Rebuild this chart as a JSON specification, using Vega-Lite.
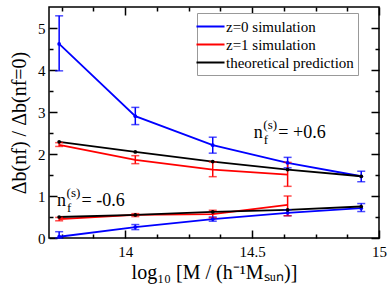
{
  "$schema": "https://vega.github.io/schema/vega-lite/v6.json",
  "width": 330,
  "height": 231,
  "autosize": {"type": "none"},
  "padding": {"left": 49, "top": 7, "right": 12, "bottom": 51},
  "background": "white",
  "config": {
    "view": {"stroke": "#000", "strokeWidth": 1.5},
    "font": "Liberation Serif",
    "axis": {
      "domain": false, "grid": false, "tickColor": "#000", "tickWidth": 1.5,
      "labelColor": "#000", "labelFont": "Liberation Serif", "labelFontSize": 15,
      "titleFont": "Liberation Serif", "titleFontWeight": "normal", "titleColor": "#000", "titleFontSize": 20,
      "labelFlush": false, "labelOverlap": false
    },
    "legend": {"labelFont": "Liberation Serif", "labelFontSize": 15, "labelColor": "#000"}
  },
  "datasets": {
    "main": [
      {"s": "z=0 simulation", "g": "p", "x": 13.74, "y": 4.62, "lo": 3.98, "hi": 5.29},
      {"s": "z=0 simulation", "g": "p", "x": 14.04, "y": 2.90, "lo": 2.70, "hi": 3.11},
      {"s": "z=0 simulation", "g": "p", "x": 14.345, "y": 2.21, "lo": 2.02, "hi": 2.40},
      {"s": "z=0 simulation", "g": "p", "x": 14.64, "y": 1.79, "lo": 1.67, "hi": 1.92},
      {"s": "z=0 simulation", "g": "p", "x": 14.93, "y": 1.47, "lo": 1.34, "hi": 1.59},
      {"s": "z=0 simulation", "g": "n", "x": 13.74, "y": 0.03, "lo": 0.0, "hi": 0.15},
      {"s": "z=0 simulation", "g": "n", "x": 14.04, "y": 0.26, "lo": 0.20, "hi": 0.32},
      {"s": "z=0 simulation", "g": "n", "x": 14.345, "y": 0.45, "lo": 0.40, "hi": 0.50},
      {"s": "z=0 simulation", "g": "n", "x": 14.64, "y": 0.60, "lo": 0.53, "hi": 0.67},
      {"s": "z=0 simulation", "g": "n", "x": 14.93, "y": 0.71, "lo": 0.63, "hi": 0.82},
      {"s": "z=1 simulation", "g": "p", "x": 13.74, "y": 2.22, "lo": 2.18, "hi": 2.27},
      {"s": "z=1 simulation", "g": "p", "x": 14.04, "y": 1.86, "lo": 1.77, "hi": 1.96},
      {"s": "z=1 simulation", "g": "p", "x": 14.345, "y": 1.63, "lo": 1.46, "hi": 1.81},
      {"s": "z=1 simulation", "g": "p", "x": 14.64, "y": 1.51, "lo": 1.23, "hi": 1.80},
      {"s": "z=1 simulation", "g": "n", "x": 13.74, "y": 0.45, "lo": 0.41, "hi": 0.49},
      {"s": "z=1 simulation", "g": "n", "x": 14.04, "y": 0.55, "lo": 0.51, "hi": 0.58},
      {"s": "z=1 simulation", "g": "n", "x": 14.345, "y": 0.57, "lo": 0.48, "hi": 0.66},
      {"s": "z=1 simulation", "g": "n", "x": 14.64, "y": 0.79, "lo": 0.53, "hi": 1.0},
      {"s": "theoretical prediction", "g": "p", "x": 13.74, "y": 2.29},
      {"s": "theoretical prediction", "g": "p", "x": 14.04, "y": 2.05},
      {"s": "theoretical prediction", "g": "p", "x": 14.345, "y": 1.82},
      {"s": "theoretical prediction", "g": "p", "x": 14.64, "y": 1.63},
      {"s": "theoretical prediction", "g": "p", "x": 14.93, "y": 1.47},
      {"s": "theoretical prediction", "g": "n", "x": 13.74, "y": 0.50},
      {"s": "theoretical prediction", "g": "n", "x": 14.04, "y": 0.55},
      {"s": "theoretical prediction", "g": "n", "x": 14.345, "y": 0.62},
      {"s": "theoretical prediction", "g": "n", "x": 14.64, "y": 0.67},
      {"s": "theoretical prediction", "g": "n", "x": 14.93, "y": 0.75}
    ],
    "notes": [
      {"x": 14.507, "y": 2.388, "v": "= +0.6"},
      {"x": 13.732, "y": 0.769, "v": "= -0.6"}
    ]
  },
  "resolve": {"axis": {"x": "independent", "y": "independent"}},
  "layer": [
    {
      "data": {"name": "main"},
      "mark": {"type": "line", "strokeWidth": 1.8},
      "encoding": {
        "x": {"field": "x", "type": "quantitative", "scale": {"domain": [13.7, 15], "zero": false, "nice": false},
              "axis": {"orient": "top", "values": [14, 14.5, 15], "tickSize": -8, "labels": false, "title": null}},
        "y": {"field": "y", "type": "quantitative", "scale": {"domain": [0, 5.5], "zero": false, "nice": false},
              "axis": {"orient": "right", "values": [0, 1, 2, 3, 4, 5], "tickSize": -8, "labels": false, "title": null}},
        "color": {"field": "s", "type": "nominal",
                  "scale": {"domain": ["z=0 simulation", "z=1 simulation", "theoretical prediction"], "range": ["#0000ff", "#ff0000", "#000000"]},
                  "legend": {"title": null, "orient": "none", "legendX": 148, "legendY": 6,
                             "strokeColor": "#999", "fillColor": "white", "padding": 4,
                             "labelFont": "Liberation Serif", "labelFontSize": 15, "labelColor": "#000",
                             "symbolType": "M-1.65,0L1.65,0", "symbolSize": 289, "symbolStrokeWidth": 2,
                             "rowPadding": 0, "labelOffset": 6,
                             "encode": {"labels": {"update": {"font": {"value": "Liberation Serif"}, "fontSize": {"value": 15}, "fill": {"value": "#000"}}}}}},
        "detail": {"field": "g"}
      }
    },
    {
      "data": {"name": "main"},
      "transform": [{"filter": "isValid(datum.lo)"}],
      "mark": {"type": "rule", "strokeWidth": 1.5},
      "encoding": {
        "x": {"field": "x", "type": "quantitative",
              "axis": {"orient": "bottom", "values": [14, 14.5, 15], "format": "~g", "tickSize": -8, "labelPadding": 14, "title": "log₁₀ [M / (h⁻¹Mₛᵤₙ)]", "titlePadding": 3}},
        "y": {"field": "lo", "type": "quantitative",
              "axis": {"orient": "left", "values": [0, 1, 2, 3, 4, 5], "tickSize": -8, "labelPadding": 12, "title": "Δb(nf) / Δb(nf=0)", "titlePadding": 8}},
        "y2": {"field": "hi"},
        "color": {"field": "s", "type": "nominal", "legend": null}
      }
    },
    {
      "data": {"name": "main"},
      "transform": [{"filter": "isValid(datum.lo)"}, {"fold": ["lo", "hi"], "as": ["k", "cap"]}],
      "mark": {"type": "tick", "orient": "horizontal", "size": 8, "thickness": 1.5},
      "encoding": {
        "x": {"field": "x", "type": "quantitative",
              "axis": {"orient": "bottom", "values": [13.75, 13.875, 14.125, 14.25, 14.375, 14.625, 14.75, 14.875], "tickSize": -4, "labels": false, "title": null}},
        "y": {"field": "cap", "type": "quantitative",
              "axis": {"orient": "left", "values": [0.5, 1.5, 2.5, 3.5, 4.5], "tickSize": -4, "labels": false, "title": null}},
        "color": {"field": "s", "type": "nominal", "legend": null}
      }
    },
    {
      "data": {"name": "main"},
      "transform": [{"filter": "datum.s != 'z=1 simulation'"}],
      "mark": {"type": "circle", "size": 14, "opacity": 1},
      "encoding": {
        "x": {"field": "x", "type": "quantitative",
              "axis": {"orient": "top", "values": [13.75, 13.875, 14.125, 14.25, 14.375, 14.625, 14.75, 14.875], "tickSize": -4, "labels": false, "title": null}},
        "y": {"field": "y", "type": "quantitative",
              "axis": {"orient": "right", "values": [0.5, 1.5, 2.5, 3.5, 4.5], "tickSize": -4, "labels": false, "title": null}},
        "color": {"field": "s", "type": "nominal", "legend": null}
      }
    },
    {
      "data": {"name": "notes"},
      "mark": {"type": "text", "text": "n", "align": "left", "baseline": "alphabetic", "fontSize": 18, "font": "Liberation Serif", "color": "#000"},
      "encoding": {
        "x": {"field": "x", "type": "quantitative", "axis": null},
        "y": {"field": "y", "type": "quantitative", "axis": null}
      }
    },
    {
      "data": {"name": "notes"},
      "mark": {"type": "text", "text": "(s)", "align": "left", "baseline": "alphabetic", "fontSize": 13, "dx": 9.5, "dy": -9, "font": "Liberation Serif", "color": "#000"},
      "encoding": {
        "x": {"field": "x", "type": "quantitative", "axis": null},
        "y": {"field": "y", "type": "quantitative", "axis": null}
      }
    },
    {
      "data": {"name": "notes"},
      "mark": {"type": "text", "text": "f", "align": "left", "baseline": "alphabetic", "fontSize": 13, "dx": 10, "dy": 6, "font": "Liberation Serif", "color": "#000"},
      "encoding": {
        "x": {"field": "x", "type": "quantitative", "axis": null},
        "y": {"field": "y", "type": "quantitative", "axis": null}
      }
    },
    {
      "data": {"name": "notes"},
      "mark": {"type": "text", "align": "left", "baseline": "alphabetic", "fontSize": 18, "dx": 24.5, "font": "Liberation Serif", "color": "#000"},
      "encoding": {
        "x": {"field": "x", "type": "quantitative", "axis": null},
        "y": {"field": "y", "type": "quantitative", "axis": null},
        "text": {"field": "v"}
      }
    }
  ]
}
